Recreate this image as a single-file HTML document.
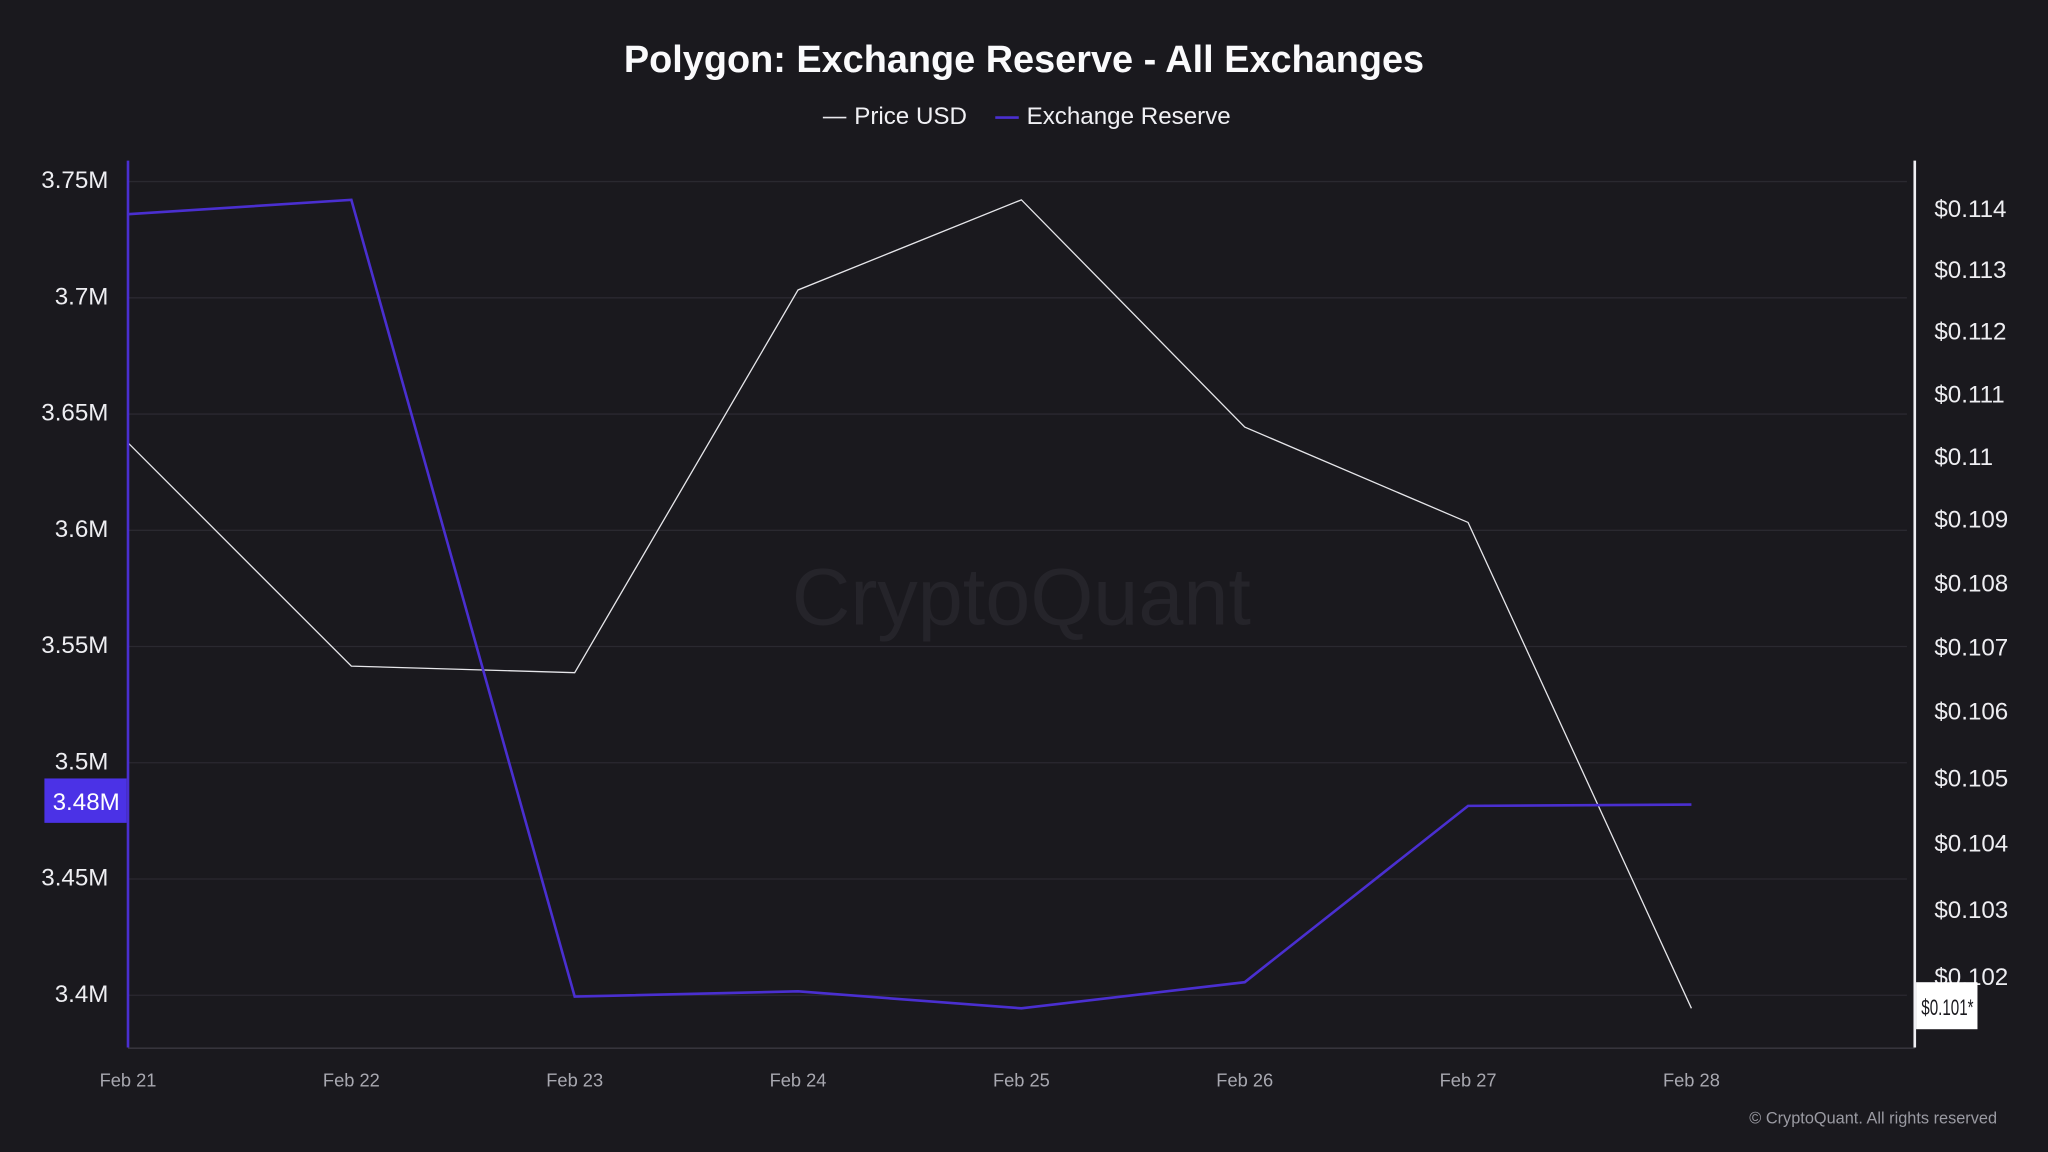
<!DOCTYPE html>
<html><head><meta charset="utf-8"><style>
html,body{margin:0;padding:0;background:#1a191e;}
svg{display:block}
text{font-family:"Liberation Sans","DejaVu Sans",sans-serif}
</style></head><body>
<svg width="2048" height="1152" viewBox="0 0 1568 882" xmlns="http://www.w3.org/2000/svg">
<rect width="1568" height="882" fill="#1a191e"/>
<text x="784" y="55" text-anchor="middle" fill="#fafafc" font-size="29" font-weight="bold">Polygon: Exchange Reserve - All Exchanges</text>
<line x1="630" y1="90" x2="648" y2="90" stroke="#e8e8ec" stroke-width="1.2"/>
<text x="654" y="95" fill="#f0f0f4" font-size="18.5">Price USD</text>
<line x1="762" y1="90" x2="780" y2="90" stroke="#4a2fd0" stroke-width="2"/>
<text x="786" y="95" fill="#f0f0f4" font-size="18.5">Exchange Reserve</text>
<text x="782" y="478" text-anchor="middle" fill="#25242a" font-size="62">CryptoQuant</text>
<g stroke="#2a2930" stroke-width="1">
<line x1="98" y1="139" x2="1460" y2="139"/><line x1="98" y1="228" x2="1460" y2="228"/>
<line x1="98" y1="317" x2="1460" y2="317"/><line x1="98" y1="406" x2="1460" y2="406"/>
<line x1="98" y1="495" x2="1460" y2="495"/><line x1="98" y1="584" x2="1460" y2="584"/>
<line x1="98" y1="673" x2="1460" y2="673"/><line x1="98" y1="762" x2="1460" y2="762"/>
</g>
<line x1="98" y1="802.5" x2="1466" y2="802.5" stroke="#3a3940" stroke-width="1"/>
<g fill="#eeeef2" font-size="18.5" text-anchor="end">
<text x="83" y="144">3.75M</text><text x="83" y="233">3.7M</text><text x="83" y="322">3.65M</text>
<text x="83" y="411">3.6M</text><text x="83" y="500">3.55M</text><text x="83" y="589">3.5M</text>
<text x="83" y="678">3.45M</text><text x="83" y="767">3.4M</text>
</g>
<g fill="#eeeef2" font-size="18.5">
<text x="1481" y="166">$0.114</text><text x="1481" y="213">$0.113</text><text x="1481" y="260">$0.112</text>
<text x="1481" y="308">$0.111</text><text x="1481" y="356">$0.11</text><text x="1481" y="404">$0.109</text>
<text x="1481" y="453">$0.108</text><text x="1481" y="502">$0.107</text><text x="1481" y="551">$0.106</text>
<text x="1481" y="602">$0.105</text><text x="1481" y="652">$0.104</text><text x="1481" y="703">$0.103</text>
<text x="1481" y="754">$0.102</text>
</g>
<g fill="#a8a8b0" font-size="14" text-anchor="middle">
<text x="98" y="832">Feb 21</text><text x="269" y="832">Feb 22</text><text x="440" y="832">Feb 23</text>
<text x="611" y="832">Feb 24</text><text x="782" y="832">Feb 25</text><text x="953" y="832">Feb 26</text>
<text x="1124" y="832">Feb 27</text><text x="1295" y="832">Feb 28</text>
</g>
<text x="1529" y="860" text-anchor="end" fill="#9a9aa2" font-size="12.5">© CryptoQuant. All rights reserved</text>
<polyline fill="none" stroke="#e6e6ea" stroke-width="1" points="98,339 269,510 440,515 611,222 782,153 953,327 1124,400 1295,772"/>
<polyline fill="none" stroke="#4a2fd0" stroke-width="2" points="98,164 269,153 440,763 611,759 782,772 953,752 1124,617 1295,616"/>
<line x1="98" y1="123" x2="98" y2="802" stroke="#4a2fd0" stroke-width="2"/>
<line x1="1466" y1="123" x2="1466" y2="802" stroke="#f0f0f4" stroke-width="2"/>
<rect x="34" y="596" width="63" height="34" fill="#4b32e6"/>
<text x="66" y="620" text-anchor="middle" fill="#ffffff" font-size="18.5">3.48M</text>
<rect x="1467" y="752" width="47" height="36" fill="#ffffff"/>
<text x="1471" y="777" fill="#1a191e" font-size="17" textLength="40" lengthAdjust="spacingAndGlyphs">$0.101*</text>
</svg>
</body></html>
